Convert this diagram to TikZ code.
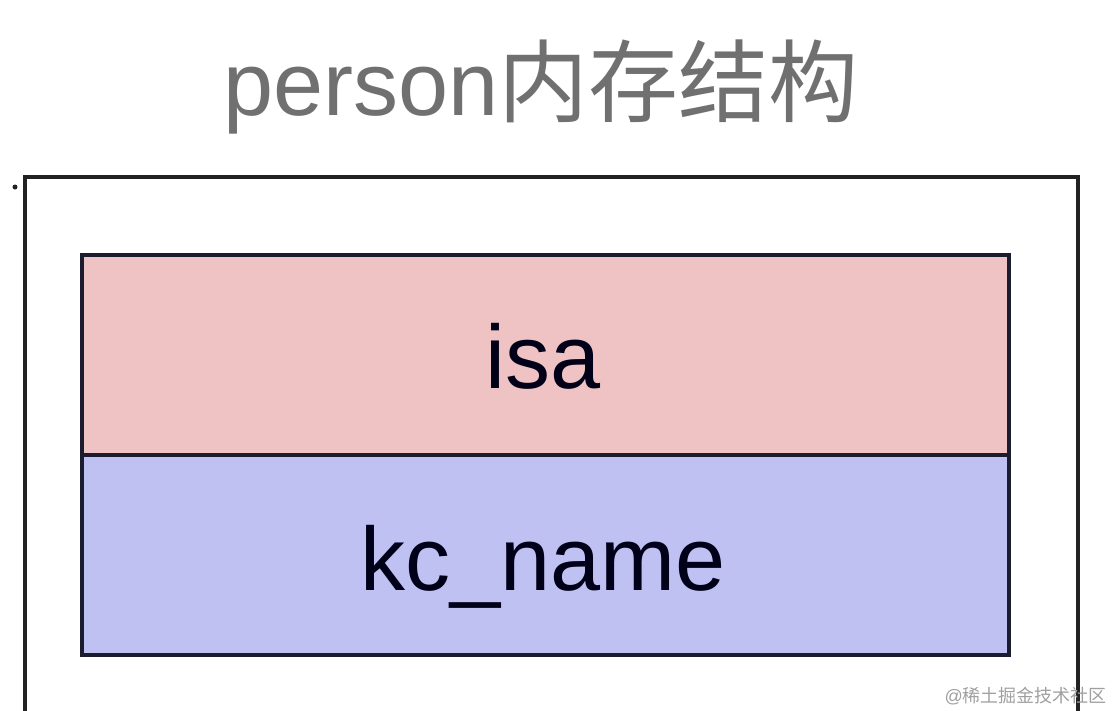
\documentclass[tikz,border=0pt]{standalone}
\usepackage{fontspec}
\setmainfont{Liberation Sans}
\newfontfamily\cjk{Noto Sans CJK SC}
\definecolor{titlegray}{RGB}{112,112,112}
\definecolor{framecol}{RGB}{34,34,34}
\definecolor{cellborder}{RGB}{28,28,48}
\definecolor{pinkfill}{RGB}{239,195,195}
\definecolor{bluefill}{RGB}{191,193,242}
\definecolor{wmgray}{RGB}{160,160,160}
\begin{document}
\begin{tikzpicture}[x=1pt,y=-1pt,
  cell/.style={draw=cellborder,line width=3.5pt,minimum width=927pt,minimum height=200pt,inner sep=0pt,anchor=north west},
  celltext/.style={font=\fontsize{90}{90}\selectfont,text=black!90!blue,inner sep=0pt,anchor=base}]
\useasboundingbox[fill=white] (0,0) rectangle (1114,710);
% outer frame (bottom cut off)
\draw[framecol,line width=4.5pt] (25,730) -- (25,177) -- (1078,177) -- (1078,730);
\fill[framecol] (15,187) circle (2.5pt);
% title
\node[anchor=base,inner sep=0pt,text=titlegray,font=\fontsize{90}{90}\selectfont] (title) at (541,115) {person{\cjk 内存结构}};
% cells
\node[cell,fill=pinkfill] (isa) at (80,253) {};
\node[cell,fill=bluefill] (kc) at (80,453) {};
\node[celltext] (isatext) at (543,388) {isa};
\node[celltext] (kctext) at (543,590) {kc\_name};
% watermark
\node[anchor=base east,inner sep=0pt,text=wmgray,font=\fontsize{18}{18}\selectfont] (wm) at (1107,702) {@{\cjk 稀土掘金技术社区}};
\end{tikzpicture}
\end{document}
